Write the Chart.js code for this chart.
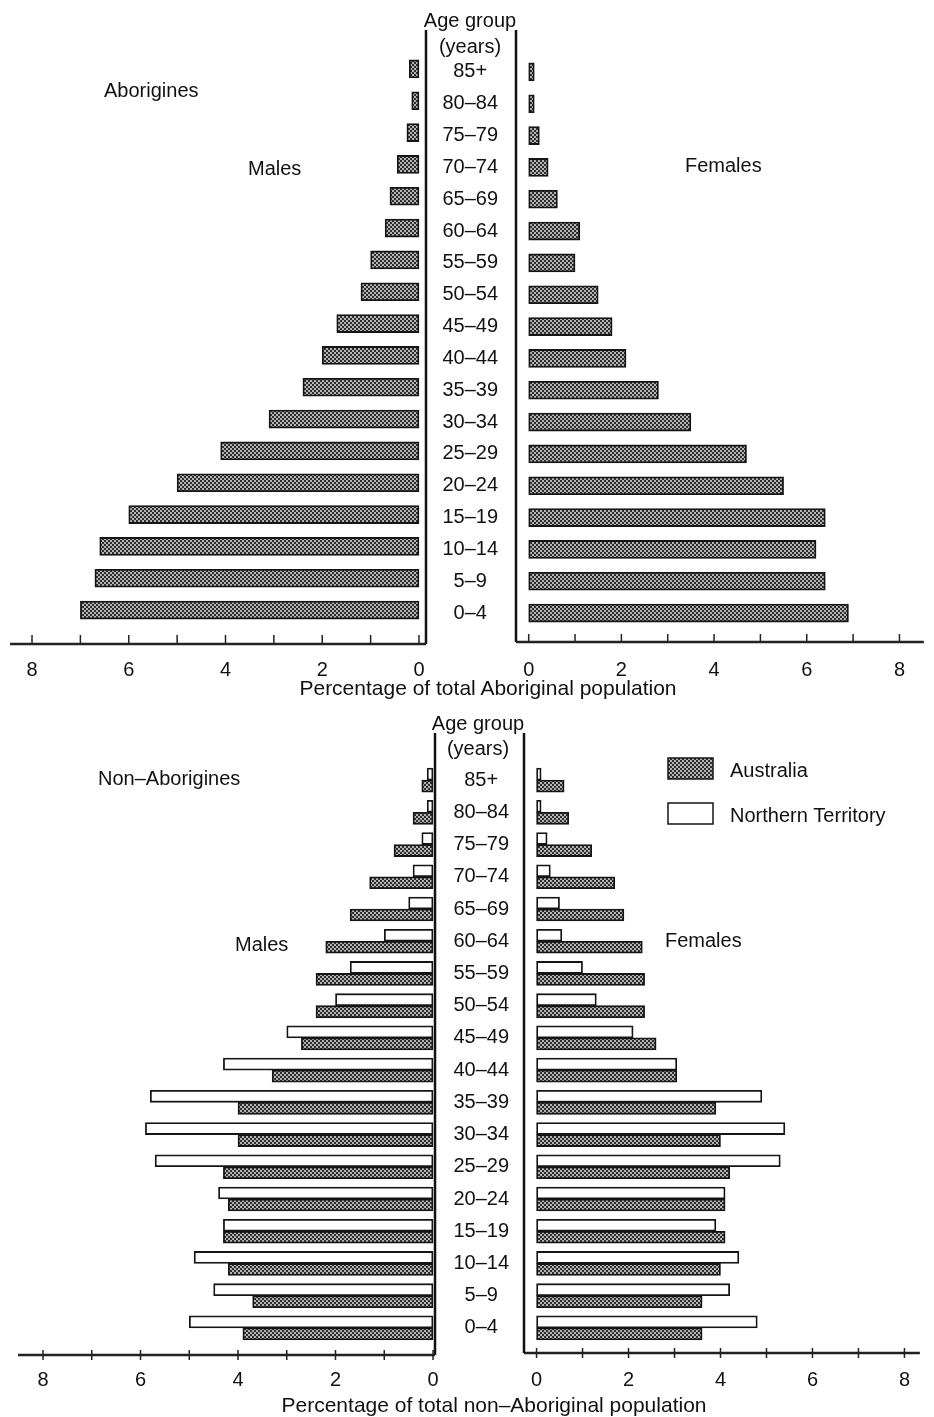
<!DOCTYPE html>
<html>
<head>
<meta charset="utf-8">
<script src="https://cdn.jsdelivr.net/npm/chart.js@4.4.0/dist/chart.umd.min.js"></script>
<style>
  body { margin: 0; background: #fff; }
  #page { position: relative; width: 934px; height: 1417px; overflow: hidden;
          font-family: 'Liberation Sans', Arial, sans-serif; color: #111; }
  canvas { position: absolute; left: 0; }
  .txt { position: absolute; font-size: 20px; line-height: 20px; white-space: nowrap; }
  .ctr { transform: translateX(-50%); }
  .ttl { font-size: 21px; }
</style>
</head>
<body>
<div id="page">
  <canvas id="abMales" width="934" height="700" style="top:0"></canvas>
  <canvas id="abFemales" width="934" height="700" style="top:0"></canvas>
  <canvas id="naMales" width="934" height="717" style="top:700px"></canvas>
  <canvas id="naFemales" width="934" height="717" style="top:700px"></canvas>

  <div class="txt" style="left:104px;top:80px">Aborigines</div>
  <div class="txt" style="left:248px;top:158px">Males</div>
  <div class="txt" style="left:685px;top:155px">Females</div>
  <div class="txt ctr" style="left:470px;top:10px">Age group</div>
  <div class="txt ctr" style="left:470px;top:36px">(years)</div>
  <div class="txt ttl ctr" style="left:488px;top:678px">Percentage of total Aboriginal population</div>

  <div class="txt" style="left:98px;top:768px">Non–Aborigines</div>
  <div class="txt" style="left:235px;top:934px">Males</div>
  <div class="txt" style="left:665px;top:930px">Females</div>
  <div class="txt ctr" style="left:478px;top:713px">Age group</div>
  <div class="txt ctr" style="left:478px;top:738px">(years)</div>
  <div class="txt ttl ctr" style="left:494px;top:1395px">Percentage of total non–Aboriginal population</div>
</div>

<script>
// age groups, top of the pyramid first
const ageGroups = ['85+', '80–84', '75–79', '70–74', '65–69', '60–64', '55–59', '50–54', '45–49',
                   '40–44', '35–39', '30–34', '25–29', '20–24', '15–19', '10–14', '5–9', '0–4'];
const axisTicks = [0, 1, 2, 3, 4, 5, 6, 7, 8];

// % of total Aboriginal population
const aboriginalMales   = [0.2, 0.15, 0.25, 0.45, 0.6, 0.7, 1.0, 1.2, 1.7, 2.0, 2.4, 3.1, 4.1, 5.0, 6.0, 6.6, 6.7, 7.0];
const aboriginalFemales = [0.12, 0.12, 0.23, 0.42, 0.62, 1.1, 1.0, 1.5, 1.8, 2.1, 2.8, 3.5, 4.7, 5.5, 6.4, 6.2, 6.4, 6.9];

// % of total non-Aboriginal population
const australiaMales  = [0.23, 0.41, 0.8, 1.3, 1.7, 2.2, 2.4, 2.4, 2.7, 3.3, 4.0, 4.0, 4.3, 4.2, 4.3, 4.2, 3.7, 3.9];
const ntMales         = [0.12, 0.12, 0.23, 0.41, 0.5, 1.0, 1.7, 2.0, 3.0, 4.3, 5.8, 5.9, 5.7, 4.4, 4.3, 4.9, 4.5, 5.0];
const australiaFemales = [0.6, 0.7, 1.2, 1.7, 1.9, 2.3, 2.35, 2.35, 2.6, 3.05, 3.9, 4.0, 4.2, 4.1, 4.1, 4.0, 3.6, 3.6];
const ntFemales        = [0.1, 0.1, 0.23, 0.3, 0.5, 0.55, 1.0, 1.3, 2.1, 3.05, 4.9, 5.4, 5.3, 4.1, 3.9, 4.4, 4.2, 4.8];

Chart.defaults.font.family = "'Liberation Sans', Arial, sans-serif";
Chart.defaults.font.size = 20;
Chart.defaults.color = '#111';

// cross-hatch fill like the printed screen
function makeHatch() {
  const tile = document.createElement('canvas');
  tile.width = 4; tile.height = 4;
  const c = tile.getContext('2d');
  c.fillStyle = '#b4b4b4';
  c.fillRect(0, 0, 4, 4);
  c.fillStyle = '#2e2e2e';
  c.fillRect(0, 0, 2, 2);
  c.fillRect(2, 2, 2, 2);
  return c.createPattern(tile, 'repeat');
}
const hatch = makeHatch();

// baseline with tick marks + the vertical rule beside the age column (+ legend)
const frame = {
  id: 'frame',
  afterDraw(chart, args, opts) {
    const { ctx, chartArea } = chart;
    const xs = chart.scales.x;
    const base = chartArea.bottom + opts.gap;
    ctx.save();
    ctx.strokeStyle = '#222';
    ctx.lineWidth = 2.5;
    ctx.beginPath();
    ctx.moveTo(chartArea.left, base);
    ctx.lineTo(chartArea.right, base);
    ctx.stroke();

    ctx.lineWidth = 1.5;
    xs.ticks.forEach(t => {
      const px = xs.getPixelForValue(t.value);
      ctx.beginPath();
      ctx.moveTo(px, base - opts.tickUp);
      ctx.lineTo(px, base + opts.tickDown);
      ctx.stroke();
    });

    const vx = opts.male ? chartArea.right : chartArea.left;
    ctx.strokeStyle = '#111';
    ctx.lineWidth = 2.5;
    ctx.beginPath();
    ctx.moveTo(vx, opts.lineTop);
    ctx.lineTo(vx, base);
    ctx.stroke();

    if (opts.legend) {
      const lg = opts.legend;
      chart.data.datasets.slice().reverse().forEach((ds, i) => {
        const y = lg.y + i * lg.step;
        ctx.fillStyle = ds.backgroundColor;
        ctx.fillRect(lg.x, y, 45, 21);
        ctx.strokeStyle = ds.borderColor;
        ctx.lineWidth = 1.5;
        ctx.strokeRect(lg.x, y, 45, 21);
        ctx.fillStyle = '#111';
        ctx.font = "20px 'Liberation Sans', Arial, sans-serif";
        ctx.textBaseline = 'alphabetic';
        ctx.fillText(ds.label, lg.x + 62, y + 19);
      });
    }
    ctx.restore();
  }
};

function pyramid(id, male, datasets, geo) {
  const yScale = male ? { display: false } : {
    position: 'left',
    afterFit: s => { s.width = geo.colWidth; },
    grid: { display: false, drawTicks: false },
    border: { display: false },
    ticks: { crossAlign: 'center', padding: geo.yPad, autoSkip: false }
  };
  return new Chart(document.getElementById(id), {
    type: 'bar',
    data: { labels: ageGroups, datasets },
    options: {
      indexAxis: 'y',
      responsive: false,
      animation: false,
      devicePixelRatio: 1,
      layout: { padding: geo.padding },
      plugins: {
        legend: { display: false },
        tooltip: { enabled: false },
        frame: Object.assign({ male }, geo.frame)
      },
      scales: {
        x: {
          type: 'linear',
          reverse: male,
          min: geo.min,
          max: geo.max,
          grid: { display: false, drawTicks: false },
          border: { display: false },
          afterBuildTicks: s => { s.ticks = axisTicks.map(v => ({ value: v })); },
          afterFit: s => { s.height = 24 + geo.labelPad; },
          ticks: {
            padding: geo.labelPad,
            autoSkip: false,
            maxRotation: 0,
            callback: v => (v % 2 === 0 ? String(v) : '')
          }
        },
        y: yScale
      }
    },
    plugins: [frame]
  });
}

function bars(label, data, fill, thick) {
  return { label, data, backgroundColor: fill, borderColor: '#151515', borderWidth: 1.8,
           borderSkipped: false, barThickness: thick };
}

// Aborigines
pyramid('abMales', true, [bars('Males', aboriginalMales, hatch, 18)], {
  padding: { left: 10, right: 508, top: 53, bottom: 18 },
  min: -0.145, max: 8.455, labelPad: 32,
  frame: { gap: 18, tickUp: 9, tickDown: 0, lineTop: 30 }
});
pyramid('abFemales', false, [bars('Females', aboriginalFemales, hatch, 18)], {
  padding: { left: 426, right: 0, top: 56, bottom: 18 },
  colWidth: 90, yPad: 18,
  min: -0.274, max: 8.526, labelPad: 29,
  frame: { gap: 13, tickUp: 8, tickDown: 0, lineTop: 30 }
});

// Non-Aborigines
pyramid('naMales', true, [
  bars('Northern Territory', ntMales, '#fff', 12),
  bars('Australia', australiaMales, hatch, 12)
], {
  padding: { left: 18, right: 499, top: 64, bottom: 25 },
  min: -0.041, max: 8.513, labelPad: 24,
  frame: { gap: 11, tickUp: 5, tickDown: 5, lineTop: 33 }
});
pyramid('naFemales', false, [
  bars('Northern Territory', ntFemales, '#fff', 12),
  bars('Australia', australiaFemales, hatch, 12)
], {
  padding: { left: 435, right: 0, top: 64, bottom: 25 },
  colWidth: 89, yPad: 15,
  min: -0.273, max: 8.336, labelPad: 24,
  frame: { gap: 9, tickUp: 5, tickDown: 5, lineTop: 33, legend: { x: 668, y: 58, step: 45 } }
});
</script>
</body>
</html>
